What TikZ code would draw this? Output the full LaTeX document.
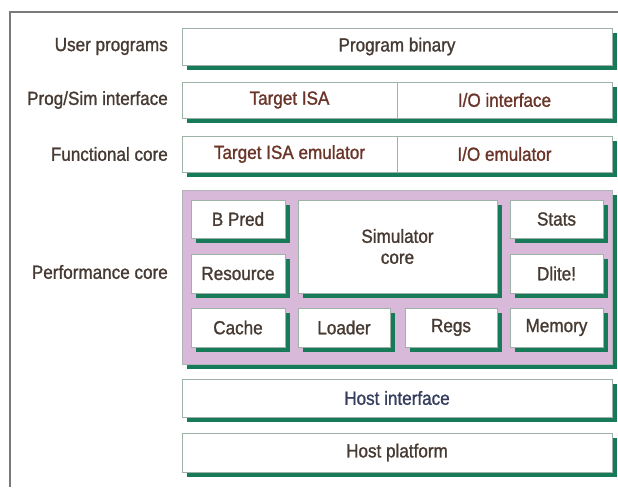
\documentclass[tikz,border=0pt]{standalone}
\usepackage{fontspec}
\setmainfont[FakeStretch=0.9,FakeBold=1.2]{Liberation Sans}
\usetikzlibrary{shadows}
\definecolor{shgreen}{HTML}{177A58}
\definecolor{lilac}{HTML}{D8B9DA}
\definecolor{edgegray}{HTML}{9DB3A6}
\definecolor{labtext}{HTML}{463A32}
\definecolor{redtext}{HTML}{6A3428}
\definecolor{bluetext}{HTML}{363E5E}
\definecolor{framegray}{HTML}{7A7A7A}
\tikzset{
  layerbox/.style={draw=edgegray, line width=0.8pt, fill=white, rectangle, inner sep=0pt,
    font=\fontsize{19}{21}\selectfont, text=labtext,
    drop shadow={shadow xshift=5pt, shadow yshift=-5pt, fill=shgreen, opacity=1}},
  purplebox/.style={draw=edgegray!70!lilac, line width=0.8pt, fill=lilac, rectangle, inner sep=0pt,
    drop shadow={shadow xshift=5pt, shadow yshift=-5pt, fill=shgreen, opacity=1}},
  rowlabel/.style={anchor=east, font=\fontsize{19}{21}\selectfont, text=labtext, inner sep=0pt}
}
\begin{document}
\begin{tikzpicture}[x=1pt,y=-1pt]
\useasboundingbox (0,0) rectangle (618,487);
% frame
\draw[framegray, line width=2pt] (10,487) -- (10,12) -- (618,12);
% row labels
\node[rowlabel] (l1) at (168,46.5) {User programs};
\node[rowlabel] (l2) at (168,100) {Prog/Sim interface};
\node[rowlabel] (l3) at (168,154) {Functional core};
\node[rowlabel] (l4) at (168,272) {Performance core};
% row 1
\node[layerbox, minimum width=430pt, minimum height=37pt] (pb) at (397,46.5) {Program binary};
% row 2
\node[layerbox, minimum width=215pt, minimum height=36pt, text=redtext] (tisa) at (289.5,100) {Target ISA};
\node[layerbox, minimum width=215pt, minimum height=36pt, text=redtext] (ioi) at (504.5,100) {I/O interface};
% row 3
\node[layerbox, minimum width=215pt, minimum height=36pt, text=redtext] (tise) at (289.5,154) {Target ISA emulator};
\node[layerbox, minimum width=215pt, minimum height=36pt, text=redtext] (ioe) at (504.5,154) {I/O emulator};
% performance core
\node[purplebox, minimum width=430pt, minimum height=174pt] (perf) at (397,277) {};
\node[layerbox, minimum width=94pt, minimum height=38pt] (bpred) at (238,219) {B Pred};
\node[layerbox, minimum width=94pt, minimum height=39pt] (res) at (238,273.5) {Resource};
\node[layerbox, minimum width=94pt, minimum height=39pt] (cache) at (238,327.5) {Cache};
\node[layerbox, minimum width=199pt, minimum height=93pt, align=center] (sim) at (397.5,246.5) {Simulator\\core};
\node[layerbox, minimum width=92pt, minimum height=39pt] (loader) at (344,327.5) {Loader};
\node[layerbox, minimum width=92pt, minimum height=39pt] (regs) at (451,327.5) {Regs};
\node[layerbox, minimum width=93pt, minimum height=38pt] (stats) at (556.5,219) {Stats};
\node[layerbox, minimum width=93pt, minimum height=39pt] (dlite) at (556.5,273.5) {Dlite!};
\node[layerbox, minimum width=93pt, minimum height=39pt] (mem) at (556.5,327.5) {Memory};
% host
\node[layerbox, minimum width=430pt, minimum height=38pt, text=bluetext] (hi) at (397,398) {Host interface};
\node[layerbox, minimum width=430pt, minimum height=39pt] (hp) at (397,452.5) {Host platform};
\end{tikzpicture}
\end{document}
